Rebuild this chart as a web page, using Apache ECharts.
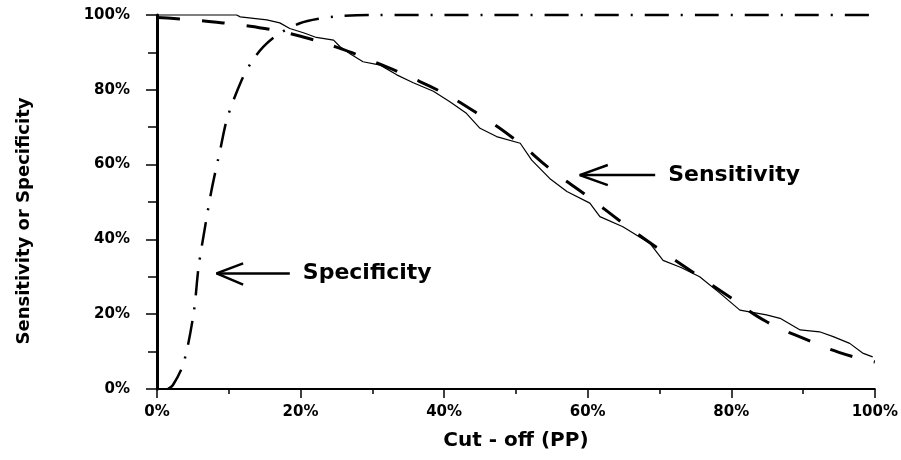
<!DOCTYPE html>
<html>
<head>
<meta charset="utf-8">
<script src="https://cdn.jsdelivr.net/npm/echarts@6/dist/echarts.min.js"></script>
<style>
html,body{margin:0;padding:0;background:#fff;}
#chart{width:901px;height:460px;}
</style>
</head>
<body>
<div id="chart"></div>
<script>
// Cut-off values (%) and curves
const sensitivityObserved = [
  [0,100],[11.1,100],[11.6,99.5],[15.3,98.7],[17.1,97.9],[18.5,96.4],[20.5,95.2],[22.2,94],
  [24.6,93.3],[25.5,91.5],[27,89.5],[28.7,87.5],[31.1,86.6],[33.4,84],[35.7,81.9],[38.5,79.6],
  [40.8,76.8],[43.1,73.7],[45,69.7],[47.3,67.5],[50.6,65.7],[52.2,61.2],[54.7,56.3],[57.1,52.8],
  [60.3,49.7],[61.7,46.1],[64.9,43.4],[68.7,38.9],[70.5,34.4],[73,32.5],[75.6,30],[78.5,25.5],
  [81.2,21.1],[84.9,19.8],[86.8,18.9],[89.6,15.8],[92.3,15.3],[94.2,14],[96.5,12.2],[98.3,9.6],[99.7,8.6]
];
const sensitivityFitted = [
  [0,99.3],[5,98.7],[10,97.7],[15,96.4],[20,94.3],[25,91.4],[30,87.7],[35,83.6],[40,79],
  [45,73.2],[50,66.5],[55,58.5],[60,51.5],[65,44.2],[70,37.3],[75,30.8],[80,24.3],[85,17.9],
  [90,13.6],[95,9.8],[100,7.2]
];
const specificity = [
  [1.5,0],[2.2,1],[3.7,6.9],[5.1,20.2],[5.8,32.7],[6.7,43.4],[7.6,53.2],[8.8,63.9],[9.8,72.5],
  [11.8,82.6],[13.2,87.5],[14.8,91.5],[17,95],[19.9,97.8],[22.5,99],[25.5,99.7],[30,100],[100,100]
];
const xTickLabels = ['0%','20%','40%','60%','80%','100%'];
const yTickLabels = ['0%','20%','40%','60%','80%','100%'];
// annotation arrows (data space): head arm, tip, head arm ; shaft tip -> tail
const specArrowHead = [[12.0,33.6],[8.3,30.9],[12.0,27.9]];
const specArrowShaft = [[8.3,30.9],[18.5,30.9]];
const sensArrowHead = [[62.8,59.9],[58.9,57.2],[62.8,54.5]];
const sensArrowShaft = [[58.9,57.2],[69.4,57.2]];
const specLabel = 'Specificity';
const sensLabel = 'Sensitivity';
const xName = 'Cut - off (PP)';
const yName = 'Sensitivity or Specificity';

const FONT = 'DejaVu Sans';
const chart = echarts.init(document.getElementById('chart'), null, {renderer:'canvas'});

function arrowSeries(data, label){
  const s = {
    type:'line', data:data, symbol:'none', clip:false, silent:true,
    lineStyle:{color:'#000', width:2.5, type:'solid'}, z:5
  };
  if(label){
    s.endLabel = {show:true, formatter:label, color:'#000', fontFamily:FONT,
      fontWeight:'bold', fontSize:22, distance:13};
  }
  return s;
}

chart.setOption({
  animation:false,
  backgroundColor:'#fff',
  grid:{left:157, right:26, top:15, bottom:71, containLabel:false},
  xAxis:{
    type:'value', min:0, max:100, interval:20,
    name:xName, nameLocation:'middle', nameGap:42,
    nameTextStyle:{color:'#000', fontFamily:FONT, fontWeight:'bold', fontSize:20},
    axisLine:{show:true, onZero:false, lineStyle:{color:'#000', width:2}},
    axisTick:{show:true, length:9, lineStyle:{color:'#000', width:1.5}},
    minorTick:{show:true, splitNumber:2, length:5, lineStyle:{color:'#000', width:1.5}},
    splitLine:{show:false},
    axisLabel:{color:'#000', fontFamily:FONT, fontWeight:'bold', fontSize:15, margin:16,
      formatter:function(v){ return xTickLabels[Math.round(v/20)]; }}
  },
  yAxis:{
    type:'value', min:0, max:100, interval:20,
    name:yName, nameLocation:'middle', nameGap:124, nameRotate:90,
    nameTextStyle:{color:'#000', fontFamily:FONT, fontWeight:'bold', fontSize:18, padding:[0,38,0,0]},
    axisLine:{show:true, lineStyle:{color:'#000', width:3}},
    axisTick:{show:true, length:11, lineStyle:{color:'#000', width:1.5}},
    minorTick:{show:true, splitNumber:2, length:9, lineStyle:{color:'#000', width:1.5}},
    splitLine:{show:false},
    axisLabel:{color:'#000', fontFamily:FONT, fontWeight:'bold', fontSize:15, margin:27,
      formatter:function(v){ return yTickLabels[Math.round(v/20)]; }}
  },
  series:[
    {type:'line', name:'Sensitivity', data:sensitivityObserved, symbol:'none', clip:false,
      lineStyle:{color:'#000', width:1.2}},
    {type:'line', name:'Sensitivity (fitted)', data:sensitivityFitted, symbol:'none', smooth:true, clip:false,
      lineStyle:{color:'#000', width:3, type:[23,22]}},
    {type:'line', name:'Specificity', data:specificity, symbol:'none', smooth:0.3, clip:false,
      lineStyle:{color:'#000', width:2.5, type:[24,12,2,12]}},
    arrowSeries(specArrowHead),
    arrowSeries(specArrowShaft, specLabel),
    arrowSeries(sensArrowHead),
    arrowSeries(sensArrowShaft, sensLabel)
  ]
});
</script>
</body>
</html>
